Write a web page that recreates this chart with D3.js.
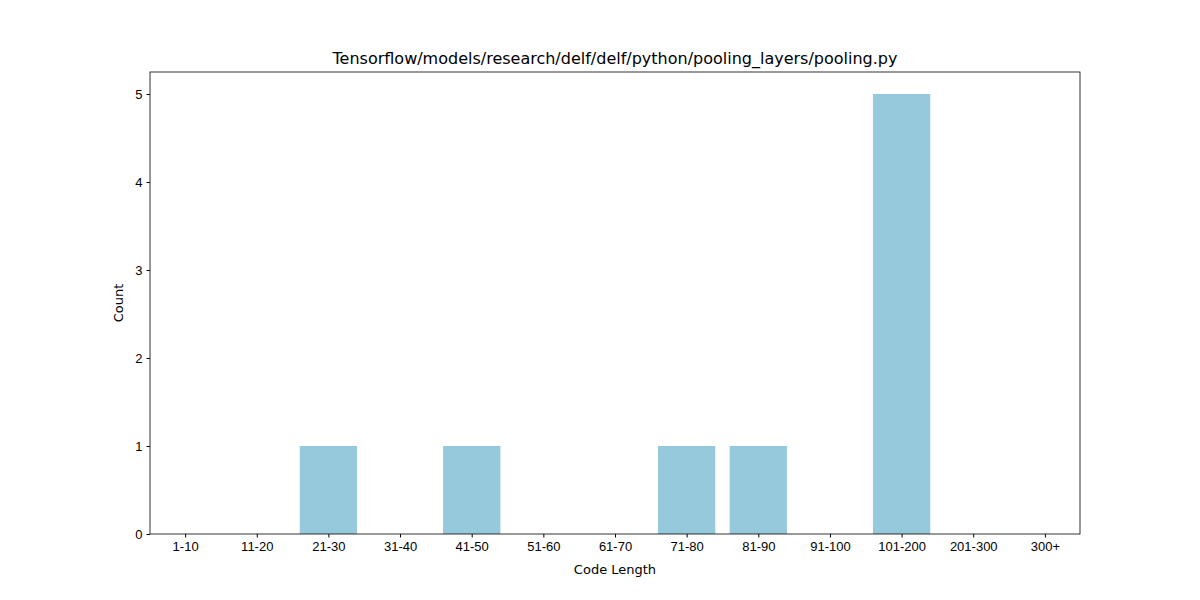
<!DOCTYPE html>
<html>
  <body style="margin:0">
    <script src="https://d3js.org/d3.v7.min.js"></script>
    <script>
      const categories = ['1-10', '11-20', '21-30', '31-40', '41-50', '51-60', '61-70', '71-80', '81-90', '91-100', '101-200', '201-300', '300+'];
      const counts = [0, 0, 1, 0, 1, 0, 0, 1, 1, 0, 5, 0, 0];
      const yTicks = [0, 1, 2, 3, 4, 5];

      const plotLeft = 150, plotRight = 1080, plotTop = 72, plotBottom = 534;
      const svg = d3.select('body').append('svg')
        .attr('width', 1200).attr('height', 600)
        .style('font-family', 'DejaVu Sans');

      const x = d3.scaleLinear().domain([-0.49, 12.49]).range([plotLeft, plotRight]);
      const y = d3.scaleLinear().domain([0, 5.25]).range([plotBottom, plotTop]);

      svg.selectAll('rect.bar').data(counts).enter().append('rect')
        .attr('class', 'bar')
        .attr('x', (d, i) => x(i - 0.4))
        .attr('width', x(0.8) - x(0))
        .attr('y', d => y(d))
        .attr('height', d => y(0) - y(d))
        .attr('fill', '#96c9dc');

      const xAxis = svg.append('g').attr('transform', `translate(0,${plotBottom})`)
        .call(d3.axisBottom(x).tickValues(d3.range(categories.length))
          .tickFormat(i => categories[i]).tickSize(3.5).tickPadding(4));
      const yAxis = svg.append('g').attr('transform', `translate(${plotLeft},0)`)
        .call(d3.axisLeft(y).tickValues(yTicks).tickFormat(d3.format('d')).tickSize(3.5).tickPadding(4));
      [xAxis, yAxis].forEach(a => {
        a.selectAll('text').style('font-size', '13px').attr('fill', '#000');
        a.selectAll('line').attr('stroke', '#000');
        a.select('.domain').remove();
      });

      svg.append('rect').attr('x', plotLeft).attr('y', plotTop)
        .attr('width', plotRight - plotLeft).attr('height', plotBottom - plotTop)
        .attr('fill', 'none').attr('stroke', '#000').attr('stroke-width', 0.8);

      svg.append('text').attr('x', (plotLeft + plotRight) / 2).attr('y', 64)
        .attr('text-anchor', 'middle').style('font-size', '16px')
        .text('Tensorflow/models/research/delf/delf/python/pooling_layers/pooling.py');
      svg.append('text').attr('x', (plotLeft + plotRight) / 2).attr('y', 574)
        .attr('text-anchor', 'middle').style('font-size', '13px').text('Code Length');
      svg.append('text').attr('transform', 'translate(123,303) rotate(-90)')
        .attr('text-anchor', 'middle').style('font-size', '13px').text('Count');
    </script>
  </body>
</html>
